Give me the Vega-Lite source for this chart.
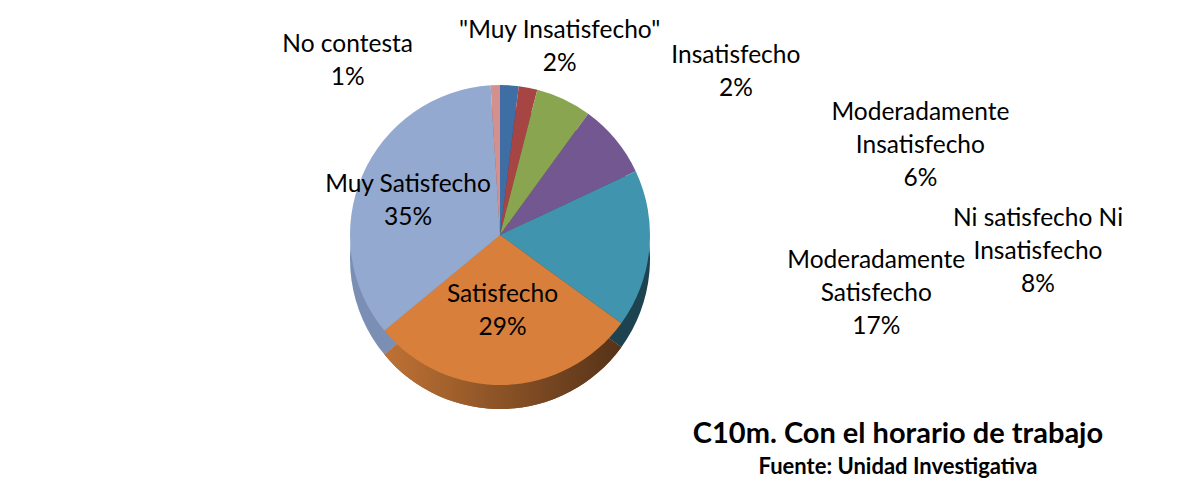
{
  "$schema": "https://vega.github.io/schema/vega-lite/v6.json",
  "width": 1000,
  "height": 358,
  "autosize": "none",
  "padding": {"left": 0, "top": 56, "right": 178, "bottom": 70},
  "background": "white",
  "config": {"view": {"stroke": null}, "font": "Lato"},
  "title": {
    "text": "C10m. Con el horario de trabajo",
    "subtitle": "Fuente: Unidad Investigativa",
    "orient": "top",
    "frame": "group",
    "anchor": "end",
    "align": "center",
    "dx": -102,
    "dy": 460,
    "offset": 0,
    "font": "Lato",
    "fontSize": 29,
    "fontWeight": "bold",
    "color": "#000000",
    "subtitleFont": "Lato",
    "subtitleFontSize": 22,
    "subtitleFontWeight": "bold",
    "subtitleColor": "#000000",
    "subtitlePadding": 8
  },
  "data": {
    "values": [
      {"categoria": "\"Muy Insatisfecho\"", "valor": 2, "orden": 1, "etiqueta": "\"Muy Insatisfecho\"\n2%"},
      {"categoria": "Insatisfecho", "valor": 2, "orden": 2, "etiqueta": "Insatisfecho\n2%"},
      {"categoria": "Moderadamente Insatisfecho", "valor": 6, "orden": 3, "etiqueta": "Moderadamente\nInsatisfecho\n6%"},
      {"categoria": "Ni satisfecho Ni Insatisfecho", "valor": 8, "orden": 4, "etiqueta": "Ni satisfecho Ni\nInsatisfecho\n8%"},
      {"categoria": "Moderadamente Satisfecho", "valor": 17, "orden": 5, "etiqueta": "Moderadamente\nSatisfecho\n17%"},
      {"categoria": "Satisfecho", "valor": 29, "orden": 6, "etiqueta": "Satisfecho\n29%"},
      {"categoria": "Muy Satisfecho", "valor": 35, "orden": 7, "etiqueta": "Muy Satisfecho\n35%"},
      {"categoria": "No contesta", "valor": 1, "orden": 8, "etiqueta": "No contesta\n1%"}
    ]
  },
  "encoding": {
    "theta": {"field": "valor", "type": "quantitative", "stack": true},
    "order": {"field": "orden", "type": "quantitative"}
  },
  "layer": [
    {
      "mark": {"type": "arc", "outerRadius": 150, "yOffset": 24},
      "encoding": {
        "color": {
          "field": "categoria",
          "type": "nominal",
          "legend": null,
          "scale": {
            "domain": ["\"Muy Insatisfecho\"", "Insatisfecho", "Moderadamente Insatisfecho", "Ni satisfecho Ni Insatisfecho", "Moderadamente Satisfecho", "Satisfecho", "Muy Satisfecho", "No contesta"],
            "range": ["#2a4a70", "#6e2d2c", "#5a6d34", "#4b3960", "#1d4250", "#8e5427", "#7b8fb5", "#8c5f5e"]
          }
        }
      }
    },
    {
      "mark": {
        "type": "arc",
        "outerRadius": 150,
        "yOffset": 24,
        "fill": {
          "gradient": "linear",
          "x1": 0, "y1": 0, "x2": 1, "y2": 0,
          "stops": [
            {"offset": 0, "color": "#bf7234"},
            {"offset": 0.5, "color": "#8a5226"},
            {"offset": 1, "color": "#553218"}
          ]
        }
      },
      "encoding": {
        "opacity": {"condition": {"test": "datum.categoria === 'Satisfecho'", "value": 1}, "value": 0}
      }
    },
    {
      "mark": {"type": "arc", "outerRadius": 150},
      "encoding": {
        "color": {
          "field": "categoria",
          "type": "nominal",
          "legend": null,
          "scale": {
            "domain": ["\"Muy Insatisfecho\"", "Insatisfecho", "Moderadamente Insatisfecho", "Ni satisfecho Ni Insatisfecho", "Moderadamente Satisfecho", "Satisfecho", "Muy Satisfecho", "No contesta"],
            "range": ["#3f6ea5", "#a64543", "#89a550", "#735790", "#4094ad", "#d8803b", "#93a9cf", "#d4908f"]
          }
        }
      }
    },
    {
      "mark": {"type": "text", "radius": 170, "dx": 49, "dy": -34, "fontSize": 24.5, "lineBreak": "\n", "lineHeight": 33, "align": "center", "baseline": "middle", "font": "Lato", "color": "#000000"},
      "encoding": {"text": {"condition": {"test": "datum.orden === 1", "field": "etiqueta"}, "value": ""}}
    },
    {
      "mark": {"type": "text", "radius": 170, "dx": 204, "dy": -12, "fontSize": 24.5, "lineBreak": "\n", "lineHeight": 33, "align": "center", "baseline": "middle", "font": "Lato", "color": "#000000"},
      "encoding": {"text": {"condition": {"test": "datum.orden === 2", "field": "etiqueta"}, "value": ""}}
    },
    {
      "mark": {"type": "text", "radius": 170, "dx": 348, "dy": 32, "fontSize": 24.5, "lineBreak": "\n", "lineHeight": 33, "align": "center", "baseline": "middle", "font": "Lato", "color": "#000000"},
      "encoding": {"text": {"condition": {"test": "datum.orden === 3", "field": "etiqueta"}, "value": ""}}
    },
    {
      "mark": {"type": "text", "radius": 170, "dx": 407, "dy": 92, "fontSize": 24.5, "lineBreak": "\n", "lineHeight": 33, "align": "center", "baseline": "middle", "font": "Lato", "color": "#000000"},
      "encoding": {"text": {"condition": {"test": "datum.orden === 4", "field": "etiqueta"}, "value": ""}}
    },
    {
      "mark": {"type": "text", "radius": 170, "dx": 207, "dy": 10, "fontSize": 24.5, "lineBreak": "\n", "lineHeight": 33, "align": "center", "baseline": "middle", "font": "Lato", "color": "#000000"},
      "encoding": {"text": {"condition": {"test": "datum.orden === 5", "field": "etiqueta"}, "value": ""}}
    },
    {
      "mark": {"type": "text", "radius": 80, "dy": -20, "fontSize": 24.5, "lineBreak": "\n", "lineHeight": 33, "align": "center", "baseline": "middle", "font": "Lato", "color": "#000000"},
      "encoding": {"text": {"condition": {"test": "datum.orden === 6", "field": "etiqueta"}, "value": ""}}
    },
    {
      "mark": {"type": "text", "radius": 85, "dx": -14, "dy": -16, "fontSize": 24.5, "lineBreak": "\n", "lineHeight": 33, "align": "center", "baseline": "middle", "font": "Lato", "color": "#000000"},
      "encoding": {"text": {"condition": {"test": "datum.orden === 7", "field": "etiqueta"}, "value": ""}}
    },
    {
      "mark": {"type": "text", "radius": 170, "dx": -147, "dy": -20, "fontSize": 24.5, "lineBreak": "\n", "lineHeight": 33, "align": "center", "baseline": "middle", "font": "Lato", "color": "#000000"},
      "encoding": {"text": {"condition": {"test": "datum.orden === 8", "field": "etiqueta"}, "value": ""}}
    }
  ],
  "resolve": {"scale": {"color": "independent"}}
}
